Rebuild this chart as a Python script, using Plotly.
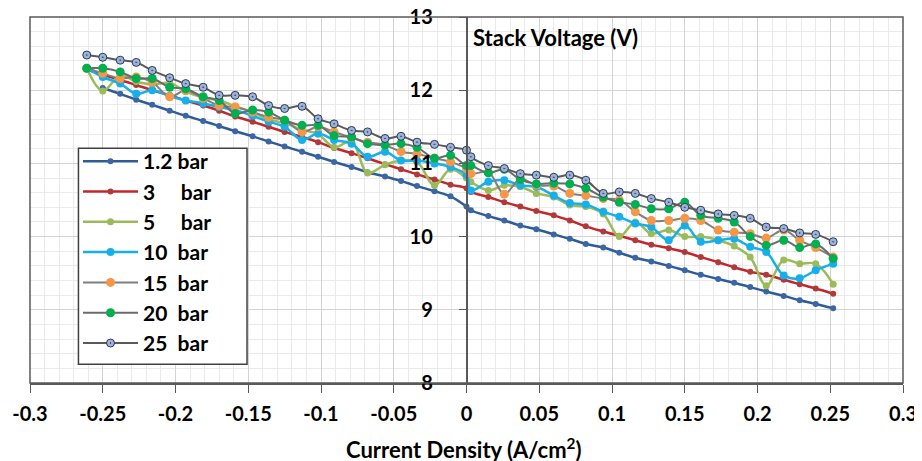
import plotly.graph_objects as go

# Current density (A/cm2) grid shared by all series
current_density = [-0.261, -0.250, -0.238, -0.227, -0.216, -0.204, -0.193, -0.181, -0.170, -0.159,
                   -0.147, -0.136, -0.125, -0.113, -0.102, -0.091, -0.079, -0.068, -0.056, -0.045,
                   -0.034, -0.022, -0.011, 0.0,
                   0.003, 0.015, 0.026, 0.037, 0.048, 0.060, 0.071, 0.082, 0.094, 0.105,
                   0.116, 0.127, 0.139, 0.150, 0.161, 0.173, 0.184, 0.195, 0.206, 0.218,
                   0.229, 0.240, 0.252]

v_1_2bar = [None, 12.03, 11.95, 11.87, 11.80, 11.72, 11.65, 11.58, 11.51, 11.44, 11.37, 11.30,
            11.23, 11.16, 11.09, 11.02, 10.95, 10.88, 10.82, 10.76, 10.69, 10.62, 10.55, 10.41,
            10.36, 10.28, 10.22, 10.15, 10.10, 10.03, 9.97, 9.90, 9.85, 9.78, 9.71, 9.66, 9.60,
            9.54, 9.48, 9.42, 9.37, 9.31, 9.25, 9.19, 9.13, 9.08, 9.02]
v_3bar = [12.29, 12.21, 12.14, 12.07, 12.00, 11.93, 11.86, 11.79, 11.72, 11.64, 11.57, 11.50,
          11.43, 11.36, 11.29, 11.21, 11.14, 11.07, 10.99, 10.92, 10.85, 10.78, 10.71, 10.66,
          10.61, 10.54, 10.47, 10.41, 10.35, 10.29, 10.22, 10.14, 10.07, 10.01, 9.95, 9.89, 9.84,
          9.79, 9.72, 9.65, 9.58, 9.52, 9.48, 9.41, 9.35, 9.29, 9.22]
v_5bar = [12.30, 11.99, 12.20, 12.12, 12.08, 12.10, 11.98, 11.90, 11.86, 11.78, 11.70, 11.60,
          11.55, 11.46, 11.40, 11.22, 11.30, 10.87, 10.98, 11.04, 11.02, 10.70, 10.92, 10.80,
          10.75, 10.63, 10.70, 10.68, 10.59, 10.54, 10.43, 10.41, 10.31, 10.00, 10.20, 10.04,
          10.09, 10.00, 10.00, 9.95, 9.87, 9.72, 9.33, 9.68, 9.63, 9.63, 9.35]
v_10bar = [12.30, 12.18, 12.09, 11.95, 12.00, 11.92, 11.86, 11.82, 11.77, 11.73, 11.65, 11.57,
           11.50, 11.32, 11.41, 11.32, 11.27, 11.09, 11.16, 11.04, 11.04, 11.00, 10.95, 10.84,
           10.63, 10.75, 10.77, 10.70, 10.68, 10.56, 10.46, 10.44, 10.34, 10.27, 10.18, 10.13,
           9.95, 10.15, 9.93, 9.95, 9.97, 9.86, 9.79, 9.47, 9.43, 9.54, 9.63]
v_15bar = [12.30, 12.23, 12.16, 12.18, 12.11, 11.91, 12.00, 11.89, 11.79, 11.77, 11.70, 11.63,
           11.59, 11.43, 11.50, 11.43, 11.35, 11.29, 11.25, 11.16, 11.13, 11.07, 11.02, 10.93,
           10.86, 10.88, 10.58, 10.79, 10.70, 10.69, 10.59, 10.56, 10.52, 10.50, 10.34, 10.22,
           10.22, 10.25, 10.22, 10.09, 10.06, 10.04, 9.98, 10.09, 9.95, 9.85, 9.72]
v_20bar = [12.30, 12.30, 12.25, 12.16, 12.16, 12.04, 12.02, 11.91, 11.86, 11.68, 11.73, 11.70,
           11.59, 11.52, 11.52, 11.38, 11.36, 11.27, 11.25, 11.27, 11.22, 11.07, 11.11, 10.97,
           10.97, 10.87, 10.92, 10.78, 10.72, 10.73, 10.72, 10.66, 10.54, 10.47, 10.44, 10.38,
           10.38, 10.47, 10.29, 10.25, 10.20, 10.00, 9.88, 9.95, 9.85, 9.90, 9.70]
v_25bar = [12.48, 12.45, 12.41, 12.38, 12.27, 12.17, 12.09, 12.04, 11.93, 11.93, 11.91, 11.79,
           11.75, 11.78, 11.61, 11.54, 11.45, 11.43, 11.34, 11.37, 11.29, 11.26, 11.22, 11.18,
           11.09, 10.97, 10.93, 10.86, 10.84, 10.81, 10.84, 10.77, 10.59, 10.61, 10.59, 10.52,
           10.47, 10.40, 10.36, 10.31, 10.29, 10.25, 10.13, 10.11, 10.05, 10.03, 9.93]

series_names = ["1.2\u00a0bar", "3\u00a0\u00a0\u00a0\u00a0\u00a0bar", "5\u00a0\u00a0\u00a0\u00a0\u00a0bar",
                "10\u00a0\u00a0bar", "15\u00a0\u00a0bar", "20\u00a0\u00a0bar", "25\u00a0\u00a0bar"]
series_values = [v_1_2bar, v_3bar, v_5bar, v_10bar, v_15bar, v_20bar, v_25bar]

x_tick_values = [-0.3, -0.25, -0.2, -0.15, -0.1, -0.05, 0, 0.05, 0.1, 0.15, 0.2, 0.25, 0.3]
x_tick_labels = ["-0.3", "-0.25", "-0.2", "-0.15", "-0.1", "-0.05", "0", "0.05", "0.1", "0.15", "0.2", "0.25", "0.3"]

styles = [
    dict(line=dict(color="#2F5C99", width=2.5), marker=dict(color="#3A66A3", size=6)),
    dict(line=dict(color="#C3272B", width=2.5), marker=dict(color="#B03A3A", size=6)),
    dict(line=dict(color="#9BBB59", width=2.5), marker=dict(color="#9BBB59", size=7)),
    dict(line=dict(color="#17AFEA", width=2.5), marker=dict(color="#17AFEA", size=8)),
    dict(line=dict(color="#7F7F7F", width=2), marker=dict(color="#F79646", size=9)),
    dict(line=dict(color="#6B6B6B", width=2), marker=dict(color="#00B050", size=9)),
    dict(line=dict(color="#5A5A5A", width=2),
         marker=dict(color="#9DB3D6", size=8, symbol="circle-dot",
                     line=dict(color="#2B3A5C", width=1))),
]

FONT = "Lato"
fig = go.Figure()
for i, (name, vals, st) in enumerate(zip(series_names, series_values, styles)):
    fig.add_trace(go.Scatter(
        x=current_density, y=vals, name=name, mode="lines+markers",
        line=dict(shape="spline", smoothing=1, **st["line"]), marker=st["marker"],
        legendgroup=f"g{i}",
    ))

grid_major = "#D4D4D4"
grid_minor = "#EAEAEA"
axis_col = "#595959"

# The page body adds an 8px offset; margins compensate so the plot box lands at the reference position.
fig.update_layout(
    width=922, height=461,
    margin=dict(l=22, r=27, t=9, b=86, autoexpand=False),
    paper_bgcolor="white", plot_bgcolor="white",
    font=dict(family=FONT, size=20, color="#000000"),
    showlegend=True,
    legend=dict(
        x=0.055, y=0.661, xanchor="left", yanchor="top",
        bgcolor="rgba(0,0,0,0)", borderwidth=0,
        font=dict(family=FONT, size=21, color="#000000", weight="bold"),
        tracegroupgap=0, itemwidth=55,
    ),
    xaxis=dict(
        range=[-0.3, 0.3], tickvals=x_tick_values, ticktext=x_tick_labels,
        showgrid=True, gridcolor=grid_major, gridwidth=1,
        minor=dict(dtick=0.01, tick0=0, showgrid=True, gridcolor=grid_minor, gridwidth=1),
        ticks="outside", ticklen=8, tickcolor=axis_col, tickwidth=1.2,
        showline=True, linecolor=axis_col, linewidth=1.5, zeroline=False,
        tickfont=dict(family=FONT, size=20, color="#000000", weight="bold"),
        ticklabelstandoff=4, ticklabeloverflow="allow", automargin=False, fixedrange=True,
    ),
    yaxis=dict(
        range=[8, 13], dtick=1, anchor="free", position=0.5,
        showgrid=True, gridcolor=grid_major, gridwidth=1,
        minor=dict(dtick=0.2, tick0=8, showgrid=True, gridcolor=grid_minor, gridwidth=1),
        ticks="outside", ticklen=7, tickcolor=axis_col, tickwidth=1.2,
        showline=True, linecolor=axis_col, linewidth=1.5, zeroline=False,
        tickfont=dict(family=FONT, size=20, color="#000000", weight="bold"),
        ticklabelstandoff=22, ticklabeloverflow="allow", automargin=False, fixedrange=True,
    ),
    shapes=[
        dict(type="rect", xref="paper", yref="paper", x0=0, x1=1, y0=0, y1=1,
             line=dict(color=axis_col, width=1.5), layer="above"),
        dict(type="rect", xref="paper", yref="paper", x0=0.0555, x1=0.2486, y0=0.0515, y1=0.6415,
             line=dict(color="#404040", width=1.5), fillcolor="white", layer="above"),
    ],
    annotations=[
        dict(text="Stack Voltage (V)", xref="paper", yref="paper", x=0.5055, y=0.945,
             xanchor="left", yanchor="middle", showarrow=False,
             font=dict(family=FONT, size=22, color="#000000", weight="bold")),
        dict(text="Current Density (A/cm<sup>2</sup>)", xref="paper", yref="paper", x=0.4966, y=-0.180,
             xanchor="center", yanchor="middle", showarrow=False,
             font=dict(family=FONT, size=22, color="#000000", weight="bold")),
    ],
)

fig.write_html("out.html")
